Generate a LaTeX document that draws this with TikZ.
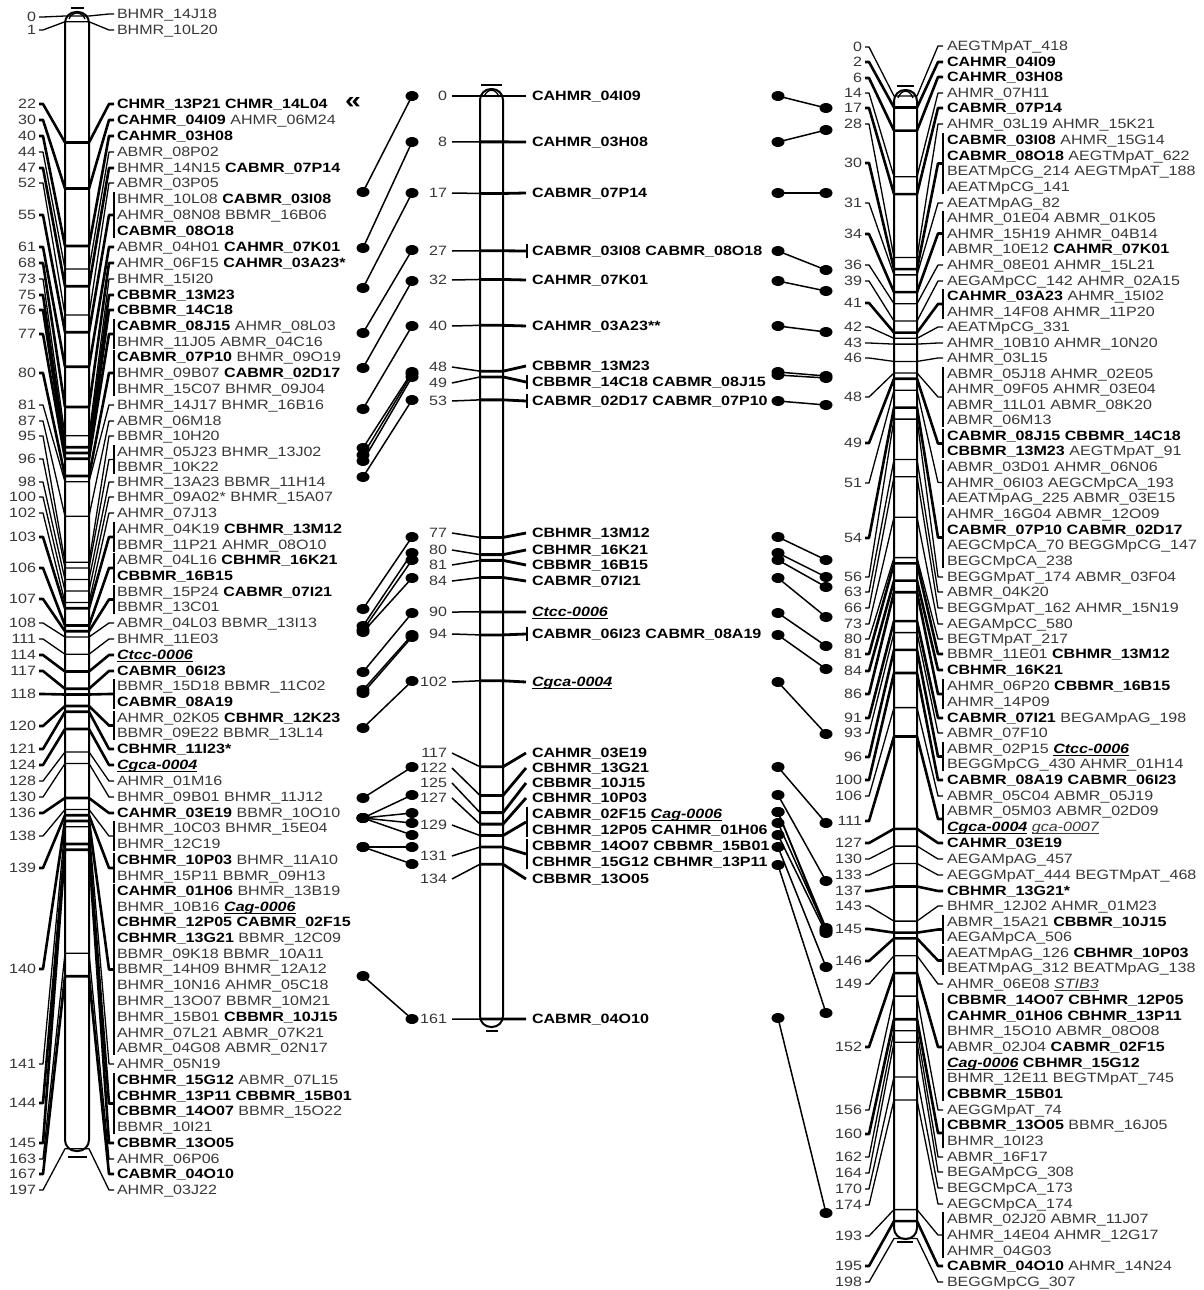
\documentclass[tikz,border=0pt]{standalone}
\usepackage{fontspec}
\setmainfont{Liberation Sans}[FakeStretch=1.19]
\usetikzlibrary{shapes.geometric}
\definecolor{txtgray}{gray}{0.22}
\newcommand\ulx[1]{\setbox0\hbox{#1}\rlap{\rule[-2.2pt]{\wd0}{0.9pt}}\box0}
\newcommand\MB[1]{\textcolor{black}{\bfseries #1}}
\newcommand\MU[1]{\textcolor{black}{\ulx{\bfseries\itshape #1}}}
\newcommand\MUI[1]{\ulx{\itshape #1}}
\begin{document}
\begin{tikzpicture}[x=1pt,y=-1pt,
  every node/.style={font=\fontsize{13.5}{15}\selectfont, inner sep=0pt, outer sep=0pt},
  numtxt/.style={anchor=base east, text=txtgray},
  labtxt/.style={anchor=base west, text=txtgray},
  mlab/.style={anchor=base west, text=black, font=\fontsize{13.5}{15}\selectfont\bfseries},
  dot/.style={ellipse, fill=black, minimum width=13pt, minimum height=10pt},
  conn/.style={line width=1.5pt},
  chromo/.style={line width=2pt, rounded corners=11pt}]
\fill[white] (0,0) rectangle (1203,1290);
\useasboundingbox (0,0) rectangle (1203,1290);

% ---------------- left chromosome ----------------
\fill[white] (65,12) rectangle (89,1151);
\foreach \cmv/\yn/\ya/\yb/\bw [count=\i] in {
0/17/14/14/0, 1/30/30/30/0, 22/104/104/104/1, 30/120/120/120/1, 40/136/136/136/1,
44/152/152/152/0, 47/168/168/168/1, 52/183/183/183/0, 55/215/199/231/1, 61/247/247/247/1,
68/263/263/263/1, 73/279/279/279/0, 75/295/295/295/1, 76/310/310/310/1, 77/334/326/342/1,
80/373/357/389/1, 81/405/405/405/0, 87/421/421/421/0, 95/436/436/436/0, 96/459/452/467/0,
98/482/482/482/0, 100/497/497/497/0, 102/513/513/513/0, 103/537/529/545/1, 106/568/560/576/1,
107/599/592/607/1, 108/623/623/623/0, 111/639/639/639/0, 114/655/655/655/1, 117/671/671/671/1,
118/694/686/702/1, 120/726/718/733/1, 121/749/749/749/1, 124/765/765/765/1, 128/781/781/781/0,
130/797/797/797/0, 136/813/813/813/1, 138/836/828/844/0, 139/868/860/876/1, 140/969/891/1048/1,
141/1064/1064/1064/0, 144/1103/1080/1127/1, 145/1143/1143/1143/1, 163/1159/1159/1159/0,
167/1174/1174/1174/1, 197/1190/1190/1190/0} {
  \pgfmathsetmacro\yt{16+5.75*\cmv}
  \pgfmathsetmacro\ym{(\ya+\yb)/2}
  \pgfmathsetmacro\lw{\bw==1?2.6:1.3}
  \node[numtxt] (An\i) at (36,\yn+4.8) {\cmv};
  \draw[line width=\lw pt, line join=round] (39,\yn) -- (43,\yn) -- (65,\yt) -- (89,\yt) -- (109,\ym) -- (114,\ym);
  \ifnum\ya<\yb \draw[line width=1.4pt] (114,\ya-7) -- (114,\yb+7); \fi
}
\draw[chromo] (65,12) rectangle (89,1151);
\draw[line width=1.6pt] (71,8) -- (84,8);
\draw[line width=1.3pt] (69,19) .. controls (72,11) and (82,11) .. (85,19);
\draw[line width=1.6pt] (68,1157) -- (87,1157);

\foreach \yl/\txt [count=\i] in {
14/{BHMR\_14J18}, 30/{BHMR\_10L20}, 104/{\MB{CHMR\_13P21 CHMR\_14L04}},
120/{\MB{CAHMR\_04I09} AHMR\_06M24}, 136/{\MB{CAHMR\_03H08}}, 152/{ABMR\_08P02},
168/{BHMR\_14N15 \MB{CABMR\_07P14}}, 183/{ABMR\_03P05}, 199/{BHMR\_10L08 \MB{CABMR\_03I08}},
215/{AHMR\_08N08 BBMR\_16B06}, 231/{\MB{CABMR\_08O18}}, 247/{ABMR\_04H01 \MB{CAHMR\_07K01}},
263/{AHMR\_06F15 \MB{CAHMR\_03A23*}}, 279/{BHMR\_15I20}, 295/{\MB{CBBMR\_13M23}},
310/{\MB{CBBMR\_14C18}}, 326/{\MB{CABMR\_08J15} AHMR\_08L03}, 342/{BHMR\_11J05 ABMR\_04C16},
357/{\MB{CABMR\_07P10} BHMR\_09O19}, 373/{BHMR\_09B07 \MB{CABMR\_02D17}},
389/{BHMR\_15C07 BHMR\_09J04}, 405/{BHMR\_14J17 BHMR\_16B16}, 421/{ABMR\_06M18},
436/{BBMR\_10H20}, 452/{AHMR\_05J23 BHMR\_13J02}, 467/{BBMR\_10K22},
482/{BHMR\_13A23 BBMR\_11H14}, 497/{BHMR\_09A02* BHMR\_15A07}, 513/{AHMR\_07J13},
529/{AHMR\_04K19 \MB{CBHMR\_13M12}}, 545/{BBMR\_11P21 AHMR\_08O10},
560/{ABMR\_04L16 \MB{CBHMR\_16K21}}, 576/{\MB{CBBMR\_16B15}},
592/{BBMR\_15P24 \MB{CABMR\_07I21}}, 607/{BBMR\_13C01}, 623/{ABMR\_04L03 BBMR\_13I13},
639/{BHMR\_11E03}, 655/{\MU{Ctcc-0006}}, 671/{\MB{CABMR\_06I23}},
686/{BBMR\_15D18 BBMR\_11C02}, 702/{\MB{CABMR\_08A19}}, 718/{AHMR\_02K05 \MB{CBHMR\_12K23}},
733/{BBMR\_09E22 BBMR\_13L14}, 749/{\MB{CBHMR\_11I23*}}, 765/{\MU{Cgca-0004}},
781/{AHMR\_01M16}, 797/{BHMR\_09B01 BHMR\_11J12}, 813/{\MB{CAHMR\_03E19} BBMR\_10O10},
828/{BHMR\_10C03 BHMR\_15E04}, 844/{BHMR\_12C19}, 860/{\MB{CBHMR\_10P03} BHMR\_11A10},
876/{BHMR\_15P11 BBMR\_09H13}, 891/{\MB{CAHMR\_01H06} BHMR\_13B19},
907/{BHMR\_10B16 \MU{Cag-0006}}, 922/{\MB{CBHMR\_12P05 CABMR\_02F15}},
938/{\MB{CBHMR\_13G21} BBMR\_12C09}, 954/{BBMR\_09K18 BBMR\_10A11},
969/{BBMR\_14H09 BHMR\_12A12}, 985/{BHMR\_10N16 AHMR\_05C18},
1001/{BHMR\_13O07 BBMR\_10M21}, 1017/{BHMR\_15B01 \MB{CBBMR\_10J15}},
1033/{AHMR\_07L21 ABMR\_07K21}, 1048/{ABMR\_04G08 ABMR\_02N17}, 1064/{AHMR\_05N19},
1080/{\MB{CBHMR\_15G12} ABMR\_07L15}, 1096/{\MB{CBHMR\_13P11 CBBMR\_15B01}},
1111/{\MB{CBBMR\_14O07} BBMR\_15O22}, 1127/{BBMR\_10I21}, 1143/{\MB{CBBMR\_13O05}},
1159/{AHMR\_06P06}, 1174/{\MB{CABMR\_04O10}}, 1190/{AHMR\_03J22}} {
  \node[labtxt] (Al\i) at (117,\yl+4.8) {\txt};
}
\node[font=\fontsize{24}{24}\selectfont\bfseries] (mark) at (353,103) {«};

% ---------------- middle chromosome ----------------
\fill[white] (480,89) rectangle (503,1027);
\foreach \cmv/\yn/\ya/\yb/\br [count=\i] in {
0/96/96/96/0, 8/142/142/142/0, 17/193/193/193/0, 27/251/251/251/1, 32/280/280/280/0,
40/326/326/326/0, 48/367/366/366/0, 49/383/382/382/1, 53/401/401/401/1, 77/533/533/533/0,
80/550/550/550/0, 81/565/565/565/0, 84/581/581/581/0, 90/612/612/612/0, 94/634/634/634/1,
102/682/682/682/0, 117/753/753/753/0, 122/768/768/768/0, 125/783/783/783/0,
127/798/798/798/0, 129/825/814/830/1, 131/856/846/862/1, 134/879/879/879/0,
161/1019/1019/1019/0} {
  \pgfmathsetmacro\yt{96+5.733*\cmv}
  \pgfmathsetmacro\ym{(\ya+\yb)/2}
  \node[numtxt] (Bn\i) at (447,\yn+4.8) {\cmv};
  \draw[line width=1.5pt, line join=round] (452,\yn) -- (480,\yt);
  \draw[line width=2.8pt, line join=round] (480,\yt) -- (503,\yt) -- (526,\ym);
  \ifnum\br=1 \draw[line width=1.5pt] (527,\ya-7) -- (527,\yb+7); \fi
}
\draw[chromo] (480,89) rectangle (503,1027);
\draw[line width=1.6pt] (481,85) -- (502,85);
\draw[line width=1.3pt] (484,97) .. controls (487,88) and (496,88) .. (499,97);
\draw[line width=1.6pt] (486,1031) -- (498,1031);

\foreach \yl/\txt [count=\i] in {
96/{CAHMR\_04I09}, 142/{CAHMR\_03H08}, 193/{CABMR\_07P14}, 251/{CABMR\_03I08 CABMR\_08O18},
280/{CAHMR\_07K01}, 326/{CAHMR\_03A23**}, 366/{CBBMR\_13M23}, 382/{CBBMR\_14C18 CABMR\_08J15},
401/{CABMR\_02D17 CABMR\_07P10}, 533/{CBHMR\_13M12}, 550/{CBHMR\_16K21}, 565/{CBBMR\_16B15},
581/{CABMR\_07I21}, 612/{\MU{Ctcc-0006}}, 634/{CABMR\_06I23 CABMR\_08A19}, 682/{\MU{Cgca-0004}},
753/{CAHMR\_03E19}, 768/{CBHMR\_13G21}, 783/{CBBMR\_10J15}, 798/{CBHMR\_10P03},
814/{CABMR\_02F15 \MU{Cag-0006}}, 830/{CBHMR\_12P05 CAHMR\_01H06},
846/{CBBMR\_14O07 CBBMR\_15B01}, 862/{CBHMR\_15G12 CBHMR\_13P11}, 879/{CBBMR\_13O05},
1019/{CABMR\_04O10}} {
  \node[mlab] (Bl\i) at (532,\yl+4.8) {\txt};
}

% ---------------- right chromosome ----------------
\fill[white] (894,90) rectangle (917,1239);
\foreach \cmv/\yn/\ya/\yb/\bw [count=\i] in {
0/47/46/46/0, 2/62/62/62/1, 6/78/77/77/1, 14/93/93/93/0, 17/108/108/108/1, 28/124/124/124/0,
30/163/140/187/1, 31/203/203/203/0, 34/234/218/249/1, 36/265/265/265/0, 39/281/281/281/0,
41/303/296/312/1, 42/327/327/327/0, 43/343/343/343/0, 46/358/358/358/0, 48/397/374/420/0,
49/443/436/451/1, 51/483/467/498/0, 54/538/514/561/1, 56/577/577/577/0, 63/592/592/592/0,
66/608/608/608/0, 73/624/624/624/0, 80/639/639/639/0, 81/654/654/654/1, 84/671/670/670/1,
86/694/686/702/1, 91/718/718/718/1, 93/733/733/733/0, 96/757/749/764/1, 100/780/780/780/1,
106/796/796/796/0, 111/821/811/827/1, 127/843/843/843/1, 130/859/859/859/0,
133/875/875/875/0, 137/891/891/891/1, 143/906/906/906/0, 145/929/922/937/1,
146/961/953/968/1, 149/984/984/984/0, 152/1047/1000/1094/1, 156/1110/1110/1110/0,
160/1134/1125/1141/1, 162/1157/1157/1157/0, 164/1173/1172/1172/0, 170/1189/1188/1188/0,
174/1205/1204/1204/0, 193/1236/1219/1251/0, 195/1266/1266/1266/1, 198/1282/1282/1282/0} {
  \pgfmathsetmacro\yt{96+5.77*\cmv}
  \pgfmathsetmacro\ym{(\ya+\yb)/2}
  \pgfmathsetmacro\lw{\bw==1?2.6:1.3}
  \node[numtxt] (Cn\i) at (862,\yn+4.8) {\cmv};
  \draw[line width=\lw pt, line join=round] (865,\yn) -- (869,\yn) -- (894,\yt) -- (917,\yt) -- (938,\ym) -- (943,\ym);
  \ifnum\ya<\yb \draw[line width=1.4pt] (943,\ya-7) -- (943,\yb+7); \fi
}
\draw[chromo] (894,90) rectangle (917,1239);
\draw[line width=1.6pt] (897,86) -- (914,86);
\draw[line width=1.3pt] (898,98) .. controls (901,89) and (910,89) .. (913,98);
\draw[line width=1.6pt] (897,1242) -- (913,1242);

\foreach \yl/\txt [count=\i] in {
46/{AEGTMpAT\_418}, 62/{\MB{CAHMR\_04I09}}, 77/{\MB{CAHMR\_03H08}}, 93/{AHMR\_07H11},
108/{\MB{CABMR\_07P14}}, 124/{AHMR\_03L19 AHMR\_15K21}, 140/{\MB{CABMR\_03I08} AHMR\_15G14},
156/{\MB{CABMR\_08O18} AEGTMpAT\_622}, 171/{BEATMpCG\_214 AEGTMpAT\_188},
187/{AEATMpCG\_141}, 203/{AEATMpAG\_82}, 218/{AHMR\_01E04 ABMR\_01K05},
234/{AHMR\_15H19 AHMR\_04B14}, 249/{ABMR\_10E12 \MB{CAHMR\_07K01}},
265/{AHMR\_08E01 AHMR\_15L21}, 281/{AEGAMpCC\_142 AHMR\_02A15},
296/{\MB{CAHMR\_03A23} AHMR\_15I02}, 312/{AHMR\_14F08 AHMR\_11P20}, 327/{AEATMpCG\_331},
343/{AHMR\_10B10 AHMR\_10N20}, 358/{AHMR\_03L15}, 374/{ABMR\_05J18 AHMR\_02E05},
389/{AHMR\_09F05 AHMR\_03E04}, 405/{ABMR\_11L01 ABMR\_08K20}, 420/{ABMR\_06M13},
436/{\MB{CABMR\_08J15 CBBMR\_14C18}}, 451/{\MB{CBBMR\_13M23} AEGTMpAT\_91},
467/{ABMR\_03D01 AHMR\_06N06}, 483/{AHMR\_06I03 AEGCMpCA\_193},
498/{AEATMpAG\_225 ABMR\_03E15}, 514/{AHMR\_16G04 ABMR\_12O09},
530/{\MB{CABMR\_07P10 CABMR\_02D17}}, 545/{AEGCMpCA\_70 BEGGMpCG\_147},
561/{BEGCMpCA\_238}, 577/{BEGGMpAT\_174 ABMR\_03F04}, 592/{ABMR\_04K20},
608/{BEGGMpAT\_162 AHMR\_15N19}, 624/{AEGAMpCC\_580}, 639/{BEGTMpAT\_217},
654/{BBMR\_11E01 \MB{CBHMR\_13M12}}, 670/{\MB{CBHMR\_16K21}},
686/{AHMR\_06P20 \MB{CBBMR\_16B15}}, 702/{AHMR\_14P09},
718/{\MB{CABMR\_07I21} BEGAMpAG\_198}, 733/{ABMR\_07F10},
749/{ABMR\_02P15 \MU{Ctcc-0006}}, 764/{BEGGMpCG\_430 AHMR\_01H14},
780/{\MB{CABMR\_08A19 CABMR\_06I23}}, 796/{ABMR\_05C04 ABMR\_05J19},
811/{ABMR\_05M03 ABMR\_02D09}, 827/{\MU{Cgca-0004} \MUI{gca-0007}},
843/{\MB{CAHMR\_03E19}}, 859/{AEGAMpAG\_457}, 875/{AEGGMpAT\_444 BEGTMpAT\_468},
891/{\MB{CBHMR\_13G21*}}, 906/{BHMR\_12J02 AHMR\_01M23},
922/{ABMR\_15A21 \MB{CBBMR\_10J15}}, 937/{AEGAMpCA\_506},
953/{AEATMpAG\_126 \MB{CBHMR\_10P03}}, 968/{BEATMpAG\_312 BEATMpAG\_138},
984/{AHMR\_06E08 \MUI{STIB3}}, 1000/{\MB{CBBMR\_14O07 CBHMR\_12P05}},
1016/{\MB{CAHMR\_01H06 CBHMR\_13P11}}, 1031/{BHMR\_15O10 ABMR\_08O08},
1047/{ABMR\_02J04 \MB{CABMR\_02F15}}, 1063/{\MU{Cag-0006} \MB{CBHMR\_15G12}},
1078/{BHMR\_12E11 BEGTMpAT\_745}, 1094/{\MB{CBBMR\_15B01}}, 1110/{AEGGMpAT\_74},
1125/{\MB{CBBMR\_13O05} BBMR\_16J05}, 1141/{BHMR\_10I23}, 1157/{ABMR\_16F17},
1172/{BEGAMpCG\_308}, 1188/{BEGCMpCA\_173}, 1204/{AEGCMpCA\_174},
1219/{ABMR\_02J20 ABMR\_11J07}, 1235/{AHMR\_14E04 AHMR\_12G17}, 1251/{AHMR\_04G03},
1266/{\MB{CABMR\_04O10} AHMR\_14N24}, 1282/{BEGGMpCG\_307}} {
  \node[labtxt] (Cl\i) at (947,\yl+4.8) {\txt};
}

% ---------------- connectors between maps ----------------
\foreach \ya/\yb [count=\i] in {
192/96, 248/142, 288/193, 333/250, 368/281, 409/326, 448/372, 455/374, 461/377, 477/400,
609/537, 626/553, 630/560, 632/578, 672/613, 690/635, 693/637, 728/681, 798/767,
818/795, 818/813, 818/823, 818/835, 847/847, 847/864, 976/1019} {
  \node[dot] (Ld\i) at (363,\ya) {};
  \node[dot] (Le\i) at (412,\yb) {};
  \draw[conn] (Ld\i.center) -- (Le\i.center);
}
\foreach \ya/\yb [count=\i] in {
96/108, 142/130, 193/193, 251/270, 281/291, 326/332, 372/376, 375/378, 401/405,
537/560, 553/577, 560/587, 578/617, 613/646, 635/669, 682/734, 767/823, 795/881,
812/928, 812/931, 823/930, 835/933, 847/967, 865/1013, 1018/1213} {
  \node[dot] (Rd\i) at (778,\ya) {};
  \node[dot] (Re\i) at (826,\yb) {};
  \draw[conn] (Rd\i.center) -- (Re\i.center);
}
\end{tikzpicture}
\end{document}
